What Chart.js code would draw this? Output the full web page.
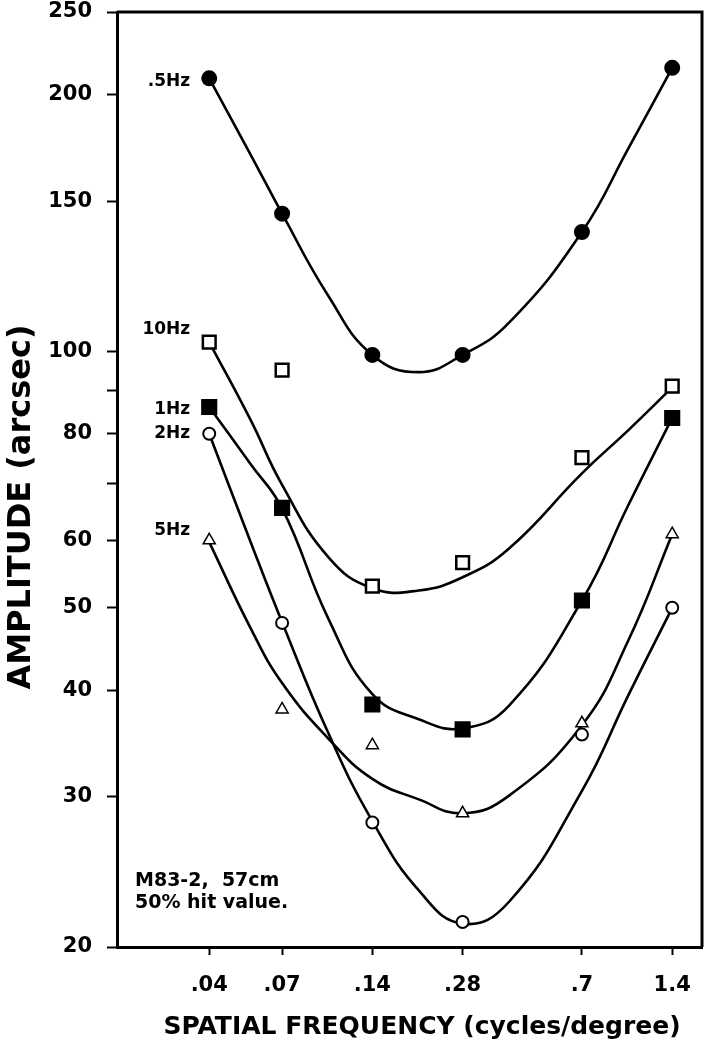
<!DOCTYPE html>
<html>
<head>
<meta charset="utf-8">
<title>Amplitude vs spatial frequency</title>
<script src="https://cdn.jsdelivr.net/npm/chart.js@4.4.0/dist/chart.umd.min.js"></script>
<style>
  html, body { margin: 0; padding: 0; background: #fff; }
  canvas { display: block; }
</style>
</head>
<body>
<canvas id="chart" width="709" height="1050"></canvas>
<script>
// ---------------- Data ----------------
const freqs = [0.04, 0.07, 0.14, 0.28, 0.7, 1.4];
const xTicks = [0.04, 0.07, 0.14, 0.28, 0.7, 1.4];
const yTicks = [20, 30, 40, 50, 60, 70, 80, 90, 100, 150, 200, 250];
const yLabelled = [20, 30, 40, 50, 60, 80, 100, 150, 200, 250];

// measured points
const hz05 = [209, 145, 99, 99, 138, 215];
const hz10 = [102.5, 95, 53, 56.5, 75, 91];
const hz1 = [86, 65.5, 38.5, 36, 51, 83.5];
const hz2 = [80, 48, 28, 21.4, 35.5, 50];
const hz5 = [60, 38, 34.5, 28.7, 36.6, 61];

// fitted curves
const fitFreqs = [0.04, 0.055, 0.07, 0.1, 0.14, 0.2, 0.28, 0.4, 0.7, 1.0, 1.4];
const fit05 = [209, 170, 145, 116, 99, 94.5, 99, 108, 138, 173, 215];
const fit10 = [102.5, 83, 69.7, 57.3, 52.7, 52.4, 54.3, 58.7, 71.9, 80.8, 90.7];
const fit1 = [86, 73.7, 65.4, 48.5, 39.6, 37.0, 36.1, 38.4, 51, 66, 83.5];
const fit2 = [80, 59.7, 48.1, 35.6, 28.1, 23.3, 21.3, 22.6, 30.5, 39.5, 50];
const fit5 = [59.7, 47.3, 40.8, 35.1, 31.5, 29.8, 28.7, 30.1, 36.4, 45.8, 61];

const seriesNames = [".5Hz", "10Hz", "1Hz", "2Hz", "5Hz"];
const noteLines = ["M83-2,  57cm", "50% hit value."];

// ---------------- Styles ----------------
const INK = "#000";
const series = [
  { name: seriesNames[0], pts: hz05, fit: fit05, style: "circle", r: 7, fill: INK, bw: 2, dy: 3 },
  { name: seriesNames[1], pts: hz10, fit: fit10, style: "rect", r: 9, fill: "#fff", bw: 2.5, dy: -12 },
  { name: seriesNames[2], pts: hz1, fit: fit1, style: "rect", r: 10, fill: INK, bw: 2, dy: 3 },
  { name: seriesNames[3], pts: hz2, fit: fit2, style: "circle", r: 6, fill: "#fff", bw: 2, dy: 0 },
  { name: seriesNames[4], pts: hz5, fit: fit5, style: "triangle", r: 7, fill: "#fff", bw: 1.5, dy: -10 }
];

const toXY = (xs, ys) => xs.map((x, i) => ({ x: x, y: ys[i] }));

// markers first so they sit on top of the curves
const datasets = [];
series.forEach(s => {
  datasets.push({
    label: s.name,
    data: toXY(freqs, s.pts),
    showLine: false,
    pointStyle: s.style,
    pointRadius: s.r,
    pointBackgroundColor: s.fill,
    pointBorderColor: INK,
    pointBorderWidth: s.bw
  });
});
series.forEach(s => {
  datasets.push({
    label: s.name + " fit",
    data: toXY(fitFreqs, s.fit),
    showLine: true,
    pointRadius: 0,
    borderColor: INK,
    borderWidth: 2.6,
    tension: 0.45
  });
});

// ---------------- Frame, labels, titles ----------------
const decorations = {
  id: "decorations",
  afterDraw(chart) {
    const { ctx, chartArea: a, scales: { x, y } } = chart;
    ctx.save();
    ctx.strokeStyle = INK;
    ctx.fillStyle = INK;
    ctx.lineWidth = 3;
    ctx.beginPath();
    ctx.moveTo(a.left, a.top);
    ctx.lineTo(a.right, a.top);
    ctx.lineTo(a.right, a.bottom);
    ctx.stroke();

    // series names next to the first point
    ctx.font = 'bold 17px "DejaVu Sans"';
    ctx.textAlign = "right";
    ctx.textBaseline = "middle";
    series.forEach(s => {
      ctx.fillText(s.name, x.getPixelForValue(freqs[0]) - 19, y.getPixelForValue(s.pts[0]) + s.dy);
    });

    // note in lower left corner
    ctx.font = 'bold 19px "DejaVu Sans"';
    ctx.textAlign = "left";
    ctx.fillText(noteLines[0], a.left + 18, a.bottom - 66);
    ctx.fillText(noteLines[1], a.left + 18, a.bottom - 44);

    // axis titles
    ctx.textAlign = "center";
    ctx.font = 'bold 25px "DejaVu Sans"';
    ctx.fillText("SPATIAL FREQUENCY (cycles/degree)", 422, 1027);
    ctx.translate(22, 507);
    ctx.rotate(-Math.PI / 2);
    ctx.font = 'bold 32px "DejaVu Sans"';
    ctx.fillText("AMPLITUDE (arcsec)", 0, 0);
    ctx.restore();
  }
};

const tickFont = { family: "DejaVu Sans", size: 21, weight: "bold" };

new Chart(document.getElementById("chart"), {
  type: "scatter",
  data: { datasets: datasets },
  options: {
    responsive: false,
    animation: false,
    layout: { padding: 0, autoPadding: false },
    plugins: { legend: { display: false }, tooltip: { enabled: false } },
    scales: {
      x: {
        type: "logarithmic",
        min: 0.0197,
        max: 1.76,
        afterBuildTicks: s => { s.ticks = xTicks.map(v => ({ value: v })); },
        afterFit: s => {
          s.height = 103;
          s.paddingLeft = 0;
          s.paddingRight = 7;
        },
        border: { display: true, color: INK, width: 3 },
        grid: { drawOnChartArea: false, drawTicks: true, tickLength: 8, tickWidth: 2, color: INK },
        ticks: {
          autoSkip: false, maxRotation: 0, padding: 18, color: INK, font: tickFont,
          callback: v => String(v).replace(/^0\./, ".")
        }
      },
      y: {
        type: "logarithmic",
        min: 20,
        max: 250,
        afterBuildTicks: s => { s.ticks = yTicks.map(v => ({ value: v })); },
        afterFit: s => {
          s.width = 117;
          s.paddingTop = 12;
          s.paddingBottom = 0;
        },
        border: { display: true, color: INK, width: 3 },
        grid: { drawOnChartArea: false, drawTicks: true, tickLength: 10, tickWidth: 2, color: INK },
        ticks: {
          autoSkip: false, padding: 15, color: INK, font: tickFont,
          callback: v => yLabelled.includes(v) ? String(v) : ""
        }
      }
    }
  },
  plugins: [decorations]
});
</script>
</body>
</html>
